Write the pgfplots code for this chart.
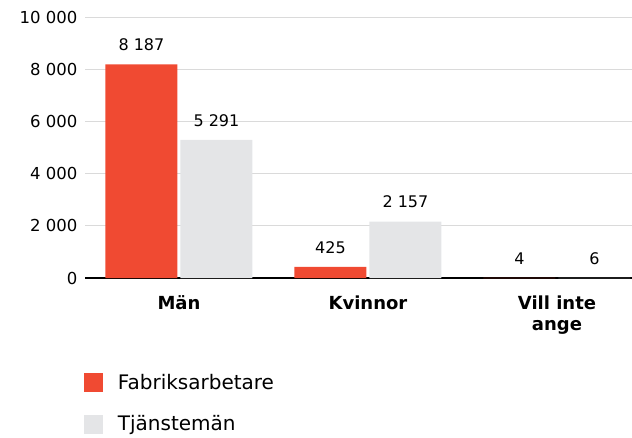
\documentclass[border=0pt]{standalone}
\usepackage{pgfplots}
\pgfplotsset{compat=1.18}
\usepackage{fontspec}
\setmainfont{DejaVu Sans}
\definecolor{redbar}{HTML}{F04A32}
\definecolor{graybar}{HTML}{E4E5E7}
\definecolor{gridc}{HTML}{DADADA}
\begin{document}
\begin{tikzpicture}[x=1pt,y=1pt]
\useasboundingbox (0,0) rectangle (632,437);
\begin{axis}[
  at={(85pt,159pt)}, anchor=south west,
  scale only axis, width=547pt, height=261pt,
  xmin=-0.497, xmax=2.397, ymin=0, ymax=10000,
  ybar=3pt, bar width=72pt,
  axis x line*=bottom, axis y line*=left,
  x axis line style={black, line width=2pt},
  y axis line style={draw=none},
  tick style={draw=none}, major tick length=0pt,
  ymajorgrids, grid style={gridc, line width=0.8pt},
  ytick={0,2000,4000,6000,8000,10000},
  scaled y ticks=false,
  /pgf/number format/.cd, 1000 sep={\ }, assume math mode=true, /pgfplots/.cd,
  yticklabel style={font=\fontsize{16.5}{19}\selectfont, anchor=east, xshift=-4pt},
  xtick={0,1,2},
  xticklabels={Män, Kvinnor, {Vill inte\\ange}},
  xticklabel style={font=\fontsize{18}{21}\selectfont\bfseries, align=center, anchor=north, yshift=-14pt},
  nodes near coords,
  nodes near coords style={font=\fontsize{16}{19}\selectfont, anchor=south, yshift=10pt, black},
  legend image code/.code={\fill[#1,draw=none] (0pt,-9.5pt) rectangle (19pt,9.5pt);},
  legend cell align=left,
  legend style={at={(-0.002,-0.36)}, anchor=north west, draw=none, inner sep=0pt, outer sep=0pt,
    font=\fontsize{20}{24}\selectfont, row sep=21pt,
    /tikz/every odd column/.append style={column sep=13pt}},
]
\addplot[fill=redbar, draw=none] coordinates {(0,8187) (1,425) (2,4)};
\addplot[fill=graybar, draw=none] coordinates {(0,5291) (1,2157) (2,6)};
\legend{Fabriksarbetare, Tjänstemän}
\end{axis}
\end{tikzpicture}
\end{document}
